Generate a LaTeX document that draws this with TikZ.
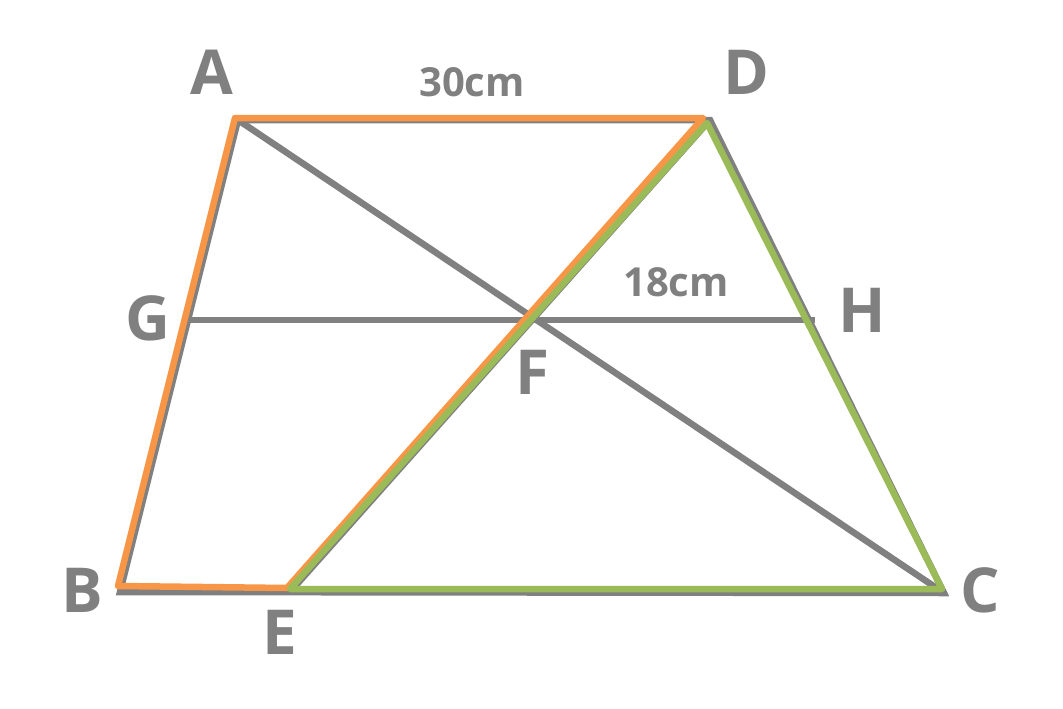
\documentclass[tikz,border=0pt]{standalone}
\usepackage{fontspec}
\setmainfont{Open Sans}
\definecolor{lblgray}{HTML}{808080}
\definecolor{edgeorange}{HTML}{F79646}
\definecolor{edgegreen}{HTML}{9BBB59}
\begin{document}
\begin{tikzpicture}[x=1pt,y=-1pt]

    \tikzset{
      grayline/.style={
        draw=lblgray,
        line width=6.5pt,
      },
      colorline/.style={
        line width=6.5pt,
        line join=round,
      },
      vlabel/.style={
        text=lblgray,
        font=\fontsize{62}{62}\selectfont\bfseries,
        inner sep=0pt,
      },
      lenlabel/.style={
        text=lblgray,
        font=\fontsize{40}{40}\selectfont\bfseries,
        inner sep=0pt,
      },
    }
    \useasboundingbox (0,0) rectangle (1063,709);
    % vertices
    \coordinate (A) at (238,120);
    \coordinate (D) at (710,120);
    \coordinate (C) at (944,593);
    \coordinate (B) at (120,592);
    \coordinate (E) at (290,592);
    \coordinate (G) at (186,320);
    \coordinate (H) at (815,320);
    % gray figure
    \draw[grayline] (A) -- (D) -- (C) -- (B) -- cycle;
    \draw[grayline] (A) -- (C);
    \draw[grayline] (G) -- (H);
    \draw[grayline] (D) -- (E);
    % coloured outlines
    \draw[colorline,draw=edgeorange] ([shift={(-3,-2)}]A) -- ([shift={(-7,-2)}]D)
        -- ([shift={(-3,-4)}]E) -- ([shift={(-2,-6)}]B) -- cycle;
    \draw[colorline,draw=edgegreen] ([shift={(-3,3)}]D) -- ([shift={(0,-3)}]E)
        -- ([shift={(-2,-4)}]C) -- cycle;
    % labels
    \node[vlabel] (lA) at (212,72) {A};
    \node[vlabel] (lD) at (746,72) {D};
    \node[vlabel] (lG) at (148,318) {G};
    \node[vlabel] (lH) at (862,310) {H};
    \node[vlabel] (lF) at (533,372) {F};
    \node[vlabel] (lB) at (82,590) {B};
    \node[vlabel] (lE) at (280,632) {E};
    \node[vlabel] (lC) at (980,590) {C};
    \node[lenlabel] (lAD) at (472,82) {30cm};
    \node[lenlabel] (lFH) at (676,282) {18cm};

\end{tikzpicture}
\end{document}
